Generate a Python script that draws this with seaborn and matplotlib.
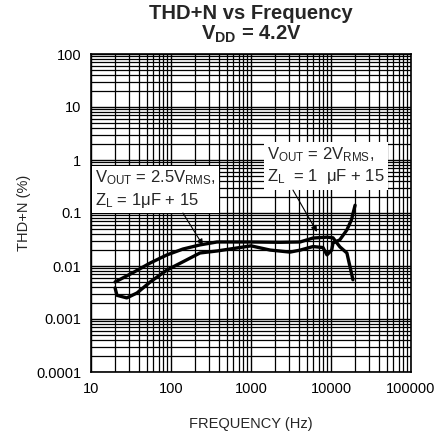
import numpy as np
import pandas as pd
import matplotlib
matplotlib.use("Agg")
import matplotlib.pyplot as plt
from matplotlib.ticker import LogLocator, FixedLocator, FixedFormatter, NullFormatter
import seaborn as sns

# Curve A: V_OUT = 2.5 Vrms (drops off at the top end)
freq_a = [20, 33, 55, 89, 141, 230, 376, 1000, 2300, 4100, 5960, 8900, 10600, 12900, 15800, 17300, 18800]
thd_a = [0.005, 0.0074, 0.0114, 0.0162, 0.0209, 0.025, 0.0284, 0.0284, 0.028, 0.0284, 0.0337, 0.035, 0.034, 0.023, 0.0176, 0.0096, 0.0055]

# Curve B: V_OUT = 2 Vrms (dips at 21-28 Hz, rises at 20 kHz)
freq_b = [20, 21.1, 28, 37.6, 55, 89, 141, 230, 376, 1000, 1730, 3070, 4100, 5960, 7940, 8900, 10200, 10600, 12900, 15800, 18000, 20000]
thd_b = [0.00385, 0.0028, 0.0025, 0.0031, 0.005, 0.0084, 0.012, 0.0176, 0.0192, 0.024, 0.02, 0.0183, 0.0199, 0.0233, 0.0223, 0.0162, 0.0199, 0.0272, 0.0312, 0.048, 0.074, 0.14]

x_ticks = [10, 100, 1000, 10000, 100000]
x_labels = ["10", "100", "1000", "10000", "100000"]
y_ticks = [0.0001, 0.001, 0.01, 0.1, 1, 10, 100]
y_labels = ["0.0001", "0.001", "0.01", "0.1", "1", "10", "100"]

sns.set_style("white")
plt.rcParams["font.family"] = ["Liberation Sans", "DejaVu Sans"]
plt.rcParams["mathtext.fontset"] = "custom"
plt.rcParams["mathtext.rm"] = "Liberation Sans"
plt.rcParams["mathtext.it"] = "Liberation Sans"
plt.rcParams["mathtext.bf"] = "Liberation Sans:bold"

fig, ax = plt.subplots(figsize=(4.42, 4.36), dpi=100)
fig.subplots_adjust(left=91 / 442, right=411 / 442, top=1 - 54 / 436, bottom=1 - 372 / 436)

df_a = pd.DataFrame({"freq": freq_a, "thd": thd_a})
df_b = pd.DataFrame({"freq": freq_b, "thd": thd_b})
sns.lineplot(data=df_a, x="freq", y="thd", color="black", lw=2.4, sort=False, estimator=None, ax=ax, zorder=5)
sns.lineplot(data=df_b, x="freq", y="thd", color="black", lw=2.4, sort=False, estimator=None, ax=ax, zorder=5)

ax.set_xscale("log")
ax.set_yscale("log")
ax.set_xlim(10, 100000)
ax.set_ylim(0.0001, 100)

ax.xaxis.set_major_locator(FixedLocator(x_ticks))
ax.xaxis.set_major_formatter(FixedFormatter(x_labels))
ax.yaxis.set_major_locator(FixedLocator(y_ticks))
ax.yaxis.set_major_formatter(FixedFormatter(y_labels))
ax.xaxis.set_minor_locator(LogLocator(base=10, subs=np.arange(2, 10), numticks=20))
ax.yaxis.set_minor_locator(LogLocator(base=10, subs=np.arange(2, 10), numticks=20))
ax.xaxis.set_minor_formatter(NullFormatter())
ax.yaxis.set_minor_formatter(NullFormatter())

ax.grid(which="major", color="black", lw=1.0)
ax.grid(which="minor", color="black", lw=0.9)
ax.tick_params(which="both", length=0, labelsize=10.5, colors="black", pad=7)
for s in ax.spines.values():
    s.set_color("black")
    s.set_linewidth(1.2)

ax.set_xlabel("FREQUENCY (Hz)", fontsize=10.5, labelpad=15)
ax.set_ylabel("THD+N (%)", fontsize=10.5, labelpad=4)

fig.text(0.568, 0.968, "THD+N vs Frequency", ha="center", va="center", fontsize=14.5, fontweight="bold")
fig.text(0.568, 0.922, r"V$_{\mathbf{DD}}$ = 4.2V", ha="center", va="center", fontsize=14.5, fontweight="bold")

box = dict(boxstyle="square,pad=0.2", facecolor="white", edgecolor="none")
ax.text(11.3, 0.28, "V$_{\\mathrm{OUT}}$ = 2.5V$_{\\mathrm{RMS}}$,\nZ$_{\\mathrm{L}}$ = 1μF + 15",
        fontsize=12, va="center", ha="left", linespacing=1.25, bbox=box, zorder=6)
ax.text(1600, 0.78, "V$_{\\mathrm{OUT}}$ = 2V$_{\\mathrm{RMS}}$,\nZ$_{\\mathrm{L}}$  = 1  μF + 15",
        fontsize=12, va="center", ha="left", linespacing=1.25, bbox=box, zorder=6)

arrow = dict(arrowstyle="-|>", color="black", lw=0.8, mutation_scale=9, shrinkA=0, shrinkB=0)
ax.annotate("", xy=(251, 0.0245), xytext=(141, 0.1), arrowprops=arrow, zorder=7)
ax.annotate("", xy=(6680, 0.044), xytext=(3350, 0.27), arrowprops=arrow, zorder=7)

fig.savefig("out.png", dpi=100)
